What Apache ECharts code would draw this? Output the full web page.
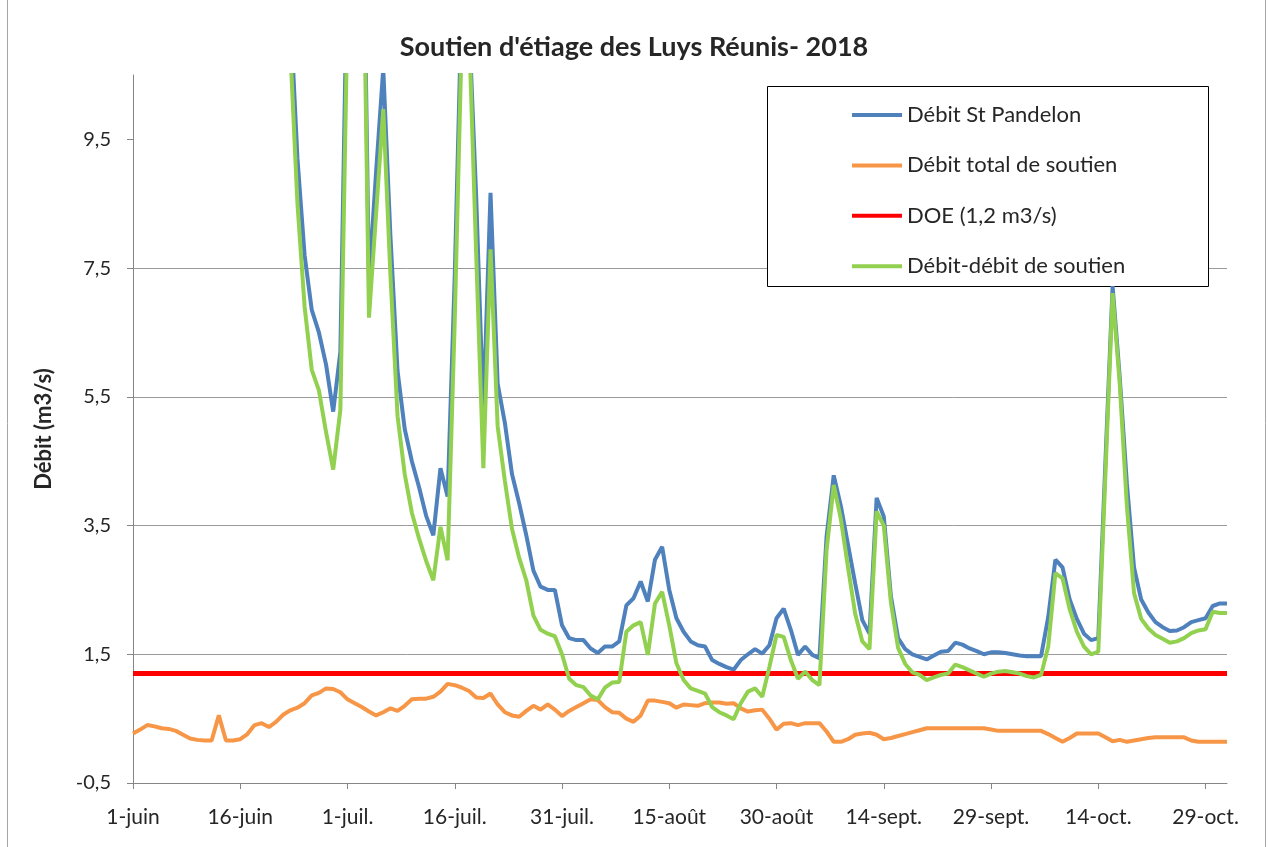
<!DOCTYPE html>
<html>
<head>
<meta charset="utf-8">
<title>Soutien d'étiage des Luys Réunis - 2018</title>
<script src="https://cdn.jsdelivr.net/npm/echarts@6/dist/echarts.min.js"></script>
<style>
  html, body { margin: 0; padding: 0; background: #ffffff; }
  #chart { width: 1268px; height: 847px; }
</style>
</head>
<body>
<div id="chart"></div>
<script>
// Daily categories, 1 June to 1 November 2018
const monthNames = ['juin', 'juil.', 'août', 'sept.', 'oct.', 'nov.'];
const monthDays = [30, 31, 31, 30, 31, 1];
const days = [];
monthNames.forEach(function (m, i) {
  for (let d = 1; d <= monthDays[i]; d++) days.push(d + '-' + m);
});

// Flow at St Pandelon (m3/s)
const debitStPandelon = [
  16.5, 17.2, 18.0, 19.5, 21.0, 20.2, 19.0, 18.1, 17.4, 16.8,
  16.0, 15.4, 17.5, 19.8, 18.6, 17.0, 15.9, 15.0, 14.2, 13.5,
  13.0, 12.4, 11.5, 9.2, 7.7, 6.85, 6.5, 6.0, 5.27, 6.2,
  12.5, 14.0, 14.8, 7.3, 9.0, 10.6, 8.0, 5.9, 5.0, 4.5,
  4.1, 3.65, 3.35, 4.39, 3.95, 7.4, 11.8, 11.3, 8.6, 5.25,
  8.67, 5.7, 5.1, 4.3, 3.85, 3.35, 2.8, 2.55, 2.5, 2.5,
  1.95, 1.75, 1.72, 1.72, 1.59, 1.52, 1.62, 1.62, 1.7, 2.26,
  2.37, 2.63, 2.32, 2.97, 3.17, 2.5, 2.06, 1.85, 1.7, 1.64,
  1.62, 1.41, 1.35, 1.3, 1.26, 1.41, 1.5, 1.58, 1.51, 1.64,
  2.06, 2.21, 1.88, 1.49, 1.62, 1.49, 1.44, 3.33, 4.28, 3.8,
  3.2, 2.6, 2.03, 1.82, 3.93, 3.64, 2.4, 1.75, 1.58, 1.5,
  1.46, 1.42, 1.48, 1.54, 1.55, 1.68, 1.65, 1.59, 1.55, 1.5,
  1.53, 1.53, 1.52, 1.5, 1.48, 1.47, 1.47, 1.47, 2.08, 2.97,
  2.85, 2.35, 2.05, 1.82, 1.72, 1.75, 4.5, 7.22, 5.8, 4.15,
  2.85, 2.35, 2.15, 2.0, 1.92, 1.86, 1.87, 1.92, 2.0, 2.03,
  2.06, 2.25, 2.29, 2.29
];

// Total support release (m3/s)
const debitSoutien = [
  0.27, 0.33, 0.40, 0.38, 0.35, 0.34, 0.31, 0.25, 0.19, 0.17,
  0.16, 0.16, 0.55, 0.16, 0.16, 0.18, 0.26, 0.40, 0.43, 0.37,
  0.45, 0.56, 0.63, 0.67, 0.74, 0.86, 0.90, 0.97, 0.96, 0.91,
  0.80, 0.74, 0.68, 0.61, 0.55, 0.60, 0.66, 0.62, 0.70, 0.80,
  0.81, 0.81, 0.84, 0.92, 1.04, 1.02, 0.98, 0.93, 0.83, 0.82,
  0.89, 0.72, 0.60, 0.55, 0.53, 0.62, 0.70, 0.64, 0.72, 0.64,
  0.54, 0.62, 0.68, 0.74, 0.80, 0.79, 0.68, 0.60, 0.59, 0.50,
  0.45, 0.55, 0.78, 0.78, 0.76, 0.74, 0.67, 0.72, 0.71, 0.70,
  0.74, 0.75, 0.75, 0.73, 0.74, 0.66, 0.61, 0.63, 0.64, 0.50,
  0.33, 0.42, 0.43, 0.40, 0.43, 0.43, 0.43, 0.30, 0.14, 0.14,
  0.18, 0.25, 0.27, 0.28, 0.25, 0.18, 0.20, 0.23, 0.26, 0.29,
  0.32, 0.35, 0.35, 0.35, 0.35, 0.35, 0.35, 0.35, 0.35, 0.35,
  0.33, 0.31, 0.31, 0.31, 0.31, 0.31, 0.31, 0.31, 0.26, 0.20,
  0.14, 0.20, 0.27, 0.27, 0.27, 0.27, 0.21, 0.15, 0.17, 0.14,
  0.16, 0.18, 0.20, 0.21, 0.21, 0.21, 0.21, 0.21, 0.16, 0.14,
  0.14, 0.14, 0.14, 0.14
];

// Flow minus support release (m3/s)
const debitMoinsSoutien = [
  16.2, 16.8, 17.6, 19.1, 20.6, 19.8, 18.7, 17.8, 17.2, 16.6,
  15.8, 15.2, 16.9, 19.6, 18.4, 16.8, 15.6, 14.6, 13.8, 13.1,
  12.5, 11.8, 10.9, 8.5, 6.9, 5.92, 5.6, 4.95, 4.37, 5.3,
  11.5, 13.0, 14.2, 6.73, 8.35, 9.97, 7.4, 5.2, 4.3, 3.7,
  3.3, 2.95, 2.65, 3.48, 2.96, 6.7, 11.2, 11.2, 7.7, 4.39,
  7.79, 5.04, 4.2, 3.45, 3.0, 2.65, 2.1, 1.88, 1.82, 1.78,
  1.5, 1.12, 1.02, 0.99, 0.86, 0.80, 0.98, 1.06, 1.07, 1.85,
  1.95, 2.0, 1.49, 2.29, 2.47, 1.95, 1.36, 1.1, 0.97, 0.93,
  0.89, 0.68, 0.6, 0.55, 0.49, 0.74, 0.92, 0.97, 0.84, 1.3,
  1.8, 1.77, 1.41, 1.12, 1.23, 1.1, 1.02, 3.12, 4.13, 3.6,
  2.85, 2.13, 1.7, 1.58, 3.72, 3.5, 2.3, 1.6, 1.35, 1.22,
  1.18, 1.1, 1.14, 1.18, 1.2, 1.34, 1.3, 1.25, 1.2, 1.15,
  1.2, 1.23, 1.24, 1.22, 1.2, 1.16, 1.14, 1.18, 1.62, 2.76,
  2.68, 2.2, 1.85, 1.62, 1.5, 1.54, 4.3, 7.11, 5.7, 3.8,
  2.45, 2.05, 1.9, 1.8, 1.74, 1.68, 1.7, 1.75, 1.83, 1.87,
  1.89, 2.16, 2.14, 2.14
];

// Objective low-water flow (DOE), m3/s
const doeLevel = 1.2;
const doe = days.map(function () { return doeLevel; });

// Value axis range and labelled ticks
const yMin = -0.5, yMax = 10.5, yStep = 2;
const yTicks = [-0.5, 1.5, 3.5, 5.5, 7.5, 9.5];

const FONT = 'Lato, "Open Sans", sans-serif';
const TEXT = '#262626';
const AXIS = '#868686';

const chart = echarts.init(document.getElementById('chart'), null, { renderer: 'canvas' });

chart.setOption({
  backgroundColor: '#ffffff',
  animation: false,
  textStyle: { fontFamily: FONT, color: TEXT },
  title: {
    text: "Soutien d'étiage des Luys Réunis- 2018",
    left: 'center',
    top: 29,
    textStyle: { fontFamily: FONT, fontSize: 27, fontWeight: 'bold', color: TEXT }
  },
  graphic: [
    // chart area frame (left and right edges)
    { type: 'line', z: 1, shape: { x1: 7.5, y1: 0, x2: 7.5, y2: 847 }, style: { stroke: '#a6a6a6', lineWidth: 1 } },
    { type: 'line', z: 1, shape: { x1: 1265.5, y1: 0, x2: 1265.5, y2: 847 }, style: { stroke: '#a6a6a6', lineWidth: 1 } },
    // legend frame
    {
      type: 'rect', z: 3,
      shape: { x: 767.5, y: 86.5, width: 441, height: 200 },
      style: { fill: '#ffffff', stroke: '#000000', lineWidth: 1 }
    }
  ],
  legend: {
    orient: 'vertical',
    left: 847,
    top: 99,
    itemWidth: 50,
    itemHeight: 4,
    itemGap: 28.4,
    icon: 'rect',
    z: 5,
    textStyle: { fontFamily: FONT, fontSize: 22, lineHeight: 22, color: TEXT },
    data: ['Débit St Pandelon', 'Débit total de soutien', 'DOE (1,2 m3/s)', 'Débit-débit de soutien']
  },
  grid: { left: 133, right: 41, top: 75, bottom: 64, containLabel: false },
  xAxis: {
    type: 'category',
    data: days,
    boundaryGap: false,
    axisLine: { onZero: false, lineStyle: { color: AXIS, width: 1 } },
    axisTick: { interval: 14, length: 6, lineStyle: { color: AXIS } },
    axisLabel: { interval: 14, fontFamily: FONT, fontSize: 21, color: TEXT, margin: 24 },
    splitLine: { show: false }
  },
  yAxis: {
    type: 'value',
    min: yMin,
    max: yMax,
    interval: yStep,
    name: 'Débit (m3/s)',
    nameLocation: 'middle',
    nameGap: 78,
    nameTextStyle: { fontFamily: FONT, fontSize: 22, fontWeight: 'bold', color: TEXT },
    axisLine: { show: true, lineStyle: { color: AXIS, width: 1 } },
    axisTick: { show: true, length: 6, customValues: yTicks, lineStyle: { color: AXIS } },
    axisLabel: {
      fontFamily: FONT, fontSize: 20, color: TEXT, margin: 22,
      customValues: yTicks,
      formatter: function (v) { return String(v).replace('.', ','); }
    },
    splitLine: { show: true, showMaxLine: false, lineStyle: { color: '#9a9a9a', width: 1 } }
  },
  series: [
    {
      name: 'Débit St Pandelon', type: 'line', data: debitStPandelon,
      showSymbol: false, symbol: 'none', clip: true,
      lineStyle: { color: '#4F81BD', width: 4 }, itemStyle: { color: '#4F81BD' }
    },
    {
      name: 'Débit total de soutien', type: 'line', data: debitSoutien,
      showSymbol: false, symbol: 'none', clip: true,
      lineStyle: { color: '#F79646', width: 4 }, itemStyle: { color: '#F79646' }
    },
    {
      name: 'DOE (1,2 m3/s)', type: 'line', data: doe,
      showSymbol: false, symbol: 'none', clip: true,
      lineStyle: { color: '#FF0000', width: 5 }, itemStyle: { color: '#FF0000' }
    },
    {
      name: 'Débit-débit de soutien', type: 'line', data: debitMoinsSoutien,
      showSymbol: false, symbol: 'none', clip: true,
      lineStyle: { color: '#92D050', width: 4 }, itemStyle: { color: '#92D050' }
    }
  ]
});
</script>
</body>
</html>
